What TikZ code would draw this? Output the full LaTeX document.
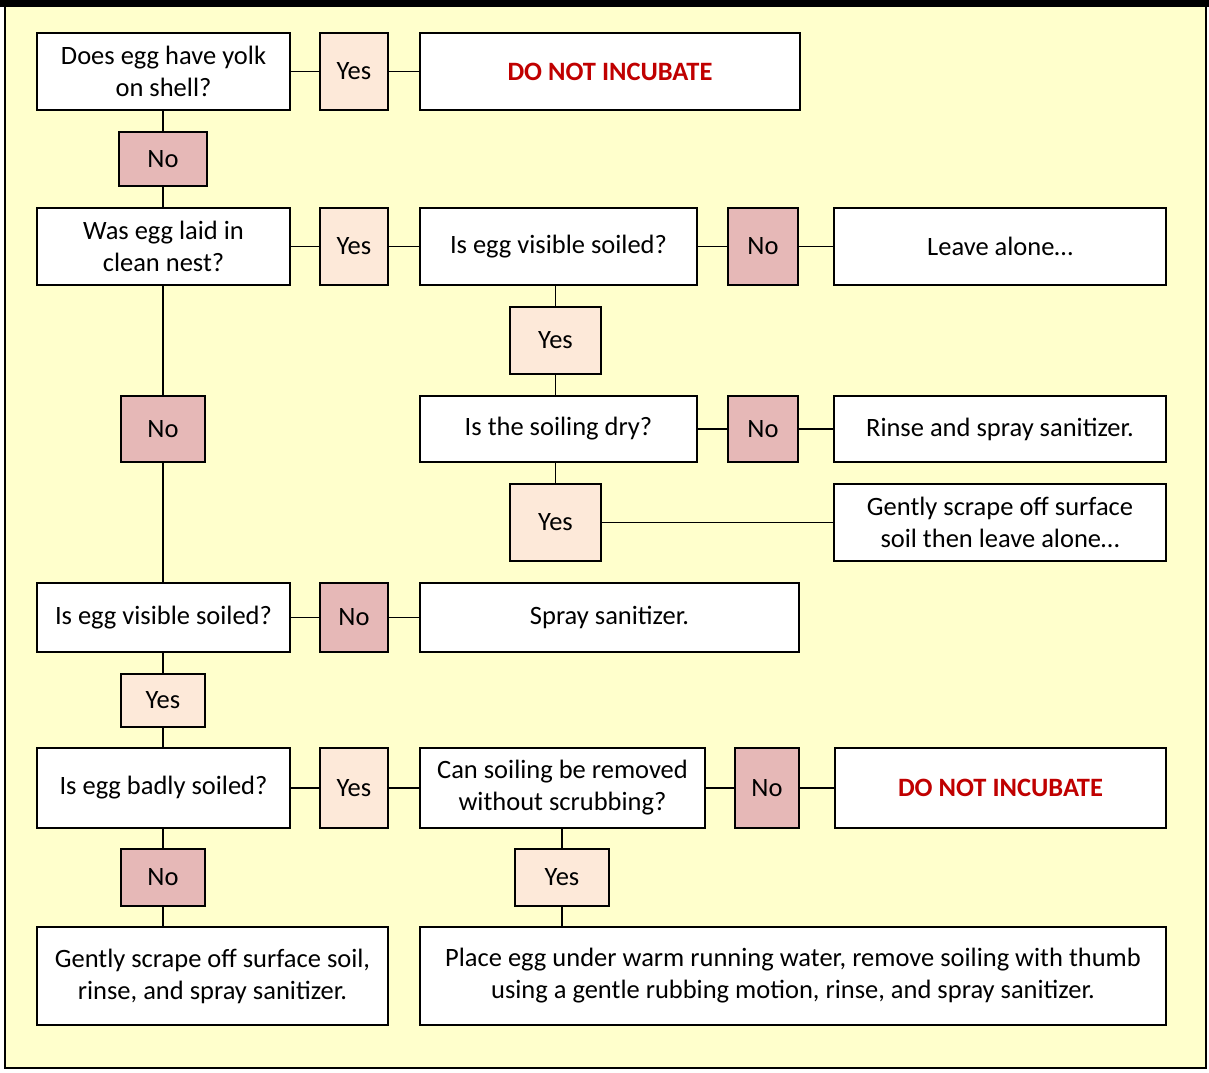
\documentclass[tikz,border=0pt]{standalone}
\usepackage{fontspec}
\setmainfont{Carlito}
\definecolor{bgy}{HTML}{FFFFCC}
\definecolor{yesc}{HTML}{FDE9D9}
\definecolor{noc}{HTML}{E6B8B7}
\definecolor{redt}{HTML}{C00000}
\tikzset{
  box/.style={draw=black, line width=1.6pt, fill=white, inner sep=2pt, align=center,
    font=\fontsize{26.5}{32}\selectfont},
  yesbox/.style={box, fill=yesc},
  nobox/.style={box, fill=noc},
  link/.style={draw=black, line width=1.3pt},
}
% \bx{style}{name}{x1}{y1}{x2}{y2}{text}
\newcommand{\bx}[7]{%
  \pgfmathsetmacro{\cxx}{(#3+#5)/2}\pgfmathsetmacro{\cyy}{(#4+#6)/2}%
  \pgfmathsetmacro{\www}{#5-#3}\pgfmathsetmacro{\hhh}{#6-#4}%
  \node[#1, minimum width=\www pt, minimum height=\hhh pt] (#2) at (\cxx,\cyy) {#7};}
\begin{document}
\begin{tikzpicture}[x=1pt,y=-1pt]
\useasboundingbox (0,0) rectangle (1209,1072);
\fill[white] (0,0) rectangle (1209,1072);
\draw[fill=bgy, line width=1.5pt] (5,6) rectangle (1206,1068);
\fill[black] (0,0) rectangle (1209,7);

\bx{box}{q1}{37}{33}{290}{110}{Does egg have yolk\\on shell?}
\bx{yesbox}{y1}{320}{33}{388}{110}{Yes}
\bx{box}{d1}{420}{33}{800}{110}{\textcolor{redt}{\bfseries DO NOT INCUBATE}}
\bx{nobox}{n1}{119}{132}{207}{186}{No}
\bx{box}{q2}{37}{208}{290}{285}{Was egg laid in\\clean nest?}
\bx{yesbox}{y2}{320}{208}{388}{285}{Yes}
\bx{box}{q3}{420}{208}{697}{285}{Is egg visible soiled?}
\bx{nobox}{n3}{728}{208}{798}{285}{No}
\bx{box}{la}{834}{208}{1166}{285}{Leave alone…}
\bx{yesbox}{y3}{510}{307}{601}{374}{Yes}
\bx{box}{q4}{420}{396}{697}{462}{Is the soiling dry?}
\bx{nobox}{n4}{728}{396}{798}{462}{No}
\bx{box}{rs}{834}{396}{1166}{462}{Rinse and spray sanitizer.}
\bx{yesbox}{y4}{510}{484}{601}{561}{Yes}
\bx{box}{gs}{834}{484}{1166}{561}{Gently scrape off surface\\soil then leave alone…}
\bx{nobox}{n2}{121}{396}{205}{462}{No}
\bx{box}{q5}{37}{583}{290}{652}{Is egg visible soiled?}
\bx{nobox}{n5}{320}{583}{388}{652}{No}
\bx{box}{ss}{420}{583}{799}{652}{Spray sanitizer.}
\bx{yesbox}{y5}{121}{674}{205}{727}{Yes}
\bx{box}{q6}{37}{748}{290}{828}{Is egg badly soiled?}
\bx{yesbox}{y6}{320}{748}{388}{828}{Yes}
\bx{box}{q7}{420}{748}{705}{828}{Can soiling be removed\\without scrubbing?}
\bx{nobox}{n7}{735}{748}{799}{828}{No}
\bx{box}{d2}{835}{748}{1166}{828}{\textcolor{redt}{\bfseries DO NOT INCUBATE}}
\bx{nobox}{n6}{121}{849}{205}{906}{No}
\bx{yesbox}{y7}{515}{849}{609}{906}{Yes}
\bx{box}{f1}{37}{927}{388}{1025}{Gently scrape off surface soil,\\rinse, and spray sanitizer.}
\bx{box}{f2}{420}{927}{1166}{1025}{Place egg under warm running water, remove soiling with thumb\\using a gentle rubbing motion, rinse, and spray sanitizer.}

% horizontal links
\draw[link] (q1.east) -- (y1.west) (y1.east) -- (d1.west);
\draw[link] (q2.east) -- (y2.west) (y2.east) -- (q3.west);
\draw[link] (q3.east) -- (n3.west) (n3.east) -- (la.west);
\draw[link] (q4.east) -- (n4.west) (n4.east) -- (rs.west);
\draw[link] (y4.east) -- (gs.west);
\draw[link] (q5.east) -- (n5.west) (n5.east) -- (ss.west);
\draw[link] (q6.east) -- (y6.west) (y6.east) -- (q7.west);
\draw[link] (q7.east) -- (n7.west) (n7.east) -- (d2.west);
% vertical links
\draw[link] (q1.south -| n1.north) -- (n1.north) (n1.south) -- (q2.north -| n1.south);
\draw[link] (q2.south -| n2.north) -- (n2.north) (n2.south) -- (q5.north -| n2.south);
\draw[link] (q5.south -| y5.north) -- (y5.north) (y5.south) -- (q6.north -| y5.south);
\draw[link] (q6.south -| n6.north) -- (n6.north) (n6.south) -- (f1.north -| n6.south);
\draw[link] (q3.south -| y3.north) -- (y3.north) (y3.south) -- (q4.north -| y3.south);
\draw[link] (q4.south -| y4.north) -- (y4.north);
\draw[link] (q7.south -| y7.north) -- (y7.north) (y7.south) -- (f2.north -| y7.south);
\end{tikzpicture}
\end{document}
